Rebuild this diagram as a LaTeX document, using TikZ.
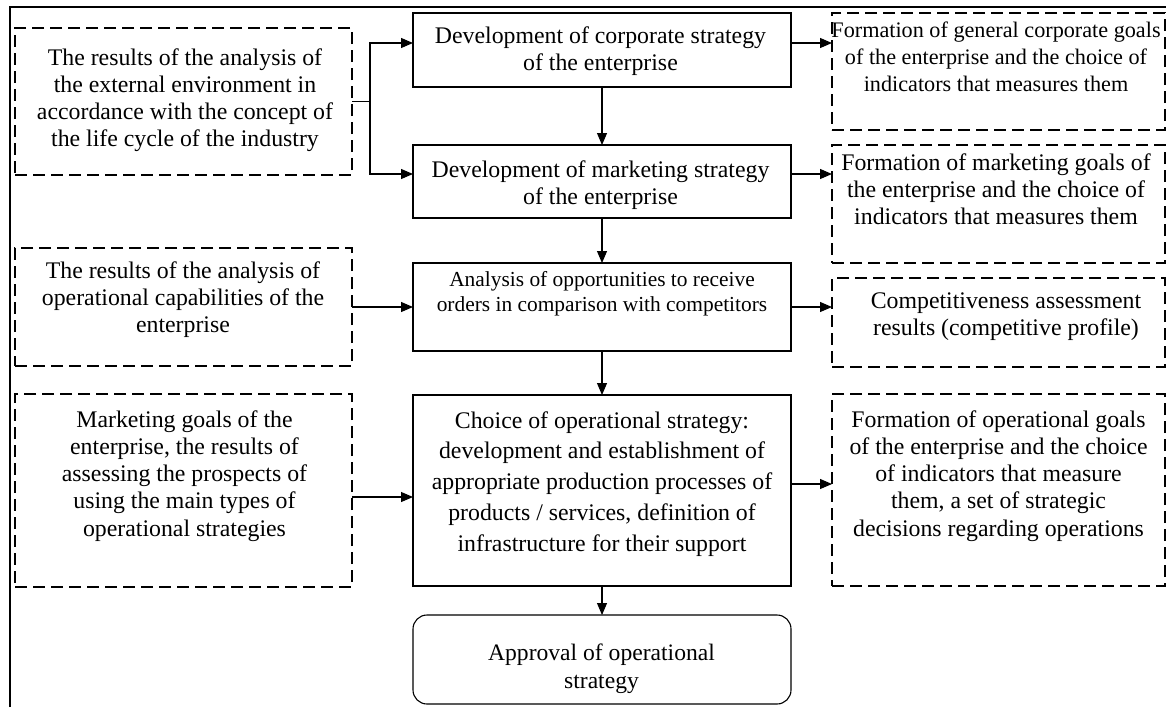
\documentclass[tikz,border=0pt]{standalone}
\usepackage{fontspec}
\setmainfont{Liberation Serif}
\usetikzlibrary{arrows.meta}
\newcommand{\tl}[1]{\begin{tabular}[t]{@{}c@{}}#1\end{tabular}}
\newcommand{\mainfs}{\fontsize{23.8}{27.3}\selectfont}
\newcommand{\smallfs}{\fontsize{21.4}{25}\selectfont}
\newcommand{\rfs}{\fontsize{22.2}{27.2}\selectfont}
\newcommand{\widefs}{\fontsize{23.8}{30.8}\selectfont}
\newcommand{\apprfs}{\fontsize{23.6}{28}\selectfont}
\begin{document}
\begin{tikzpicture}[x=1pt,y=-1pt,
  box/.style={draw=black, line width=1.1pt, inner sep=0pt, outer sep=0pt},
  dbox/.style={box, dash pattern=on 12pt off 6pt},
  rbox/.style={box, rounded corners=14pt},
  txt/.style={anchor=base, inner sep=0pt, font=\mainfs},
  ln/.style={line width=1.1pt},
  arr/.style={line width=1.1pt, -{Triangle[length=12pt,width=10pt]}},
  frame/.style={line width=1.4pt}]
\useasboundingbox (0,0) rectangle (1166,707);
% frame
\coordinate (fb) at (10,707);
\coordinate (ft) at (10,7);
\coordinate (fr) at (1166,7);
\draw[frame] (fb) -- (ft) -- (fr);
% left boxes
\node[dbox, minimum width=337pt, minimum height=147pt] (bL1) at (183.5,101.5) {};
\node[dbox, minimum width=337pt, minimum height=118pt] (bL2) at (183.5,307) {};
\node[dbox, minimum width=337pt, minimum height=193pt] (bL3) at (183.5,490.5) {};
% centre boxes
\node[box, minimum width=378pt, minimum height=74pt] (bA) at (602,50) {};
\node[box, minimum width=378pt, minimum height=73pt] (bB) at (602,181.5) {};
\node[box, minimum width=378pt, minimum height=88pt] (bC) at (602,307) {};
\node[box, minimum width=378pt, minimum height=191pt] (bD) at (602,490.5) {};
\node[rbox, minimum width=378pt, minimum height=89pt] (bE) at (602,659.5) {};
% right boxes
\node[dbox, minimum width=333pt, minimum height=117pt] (bR1) at (998.5,71.5) {};
\node[dbox, minimum width=333pt, minimum height=118pt] (bR2) at (998.5,204) {};
\node[dbox, minimum width=333pt, minimum height=89pt] (bR3) at (998.5,322.5) {};
\node[dbox, minimum width=333pt, minimum height=192pt] (bR4) at (998.5,490) {};
% texts
\node[txt] (tL1) at (185,65) {\tl{The results of the analysis of\\the external environment in\\accordance with the concept of\\the life cycle of the industry}};
\node[txt] (tL2) at (183,278) {\tl{The results of the analysis of\\operational capabilities of the\\enterprise}};
\node[txt] (tL3) at (184.5,427) {\tl{Marketing goals of the\\enterprise, the results of\\assessing the prospects of\\using the main types of\\operational strategies}};
\node[txt] (tA) at (600.5,43) {\tl{Development of corporate strategy\\of the enterprise}};
\node[txt] (tB) at (600.5,177) {\tl{Development of marketing strategy\\of the enterprise}};
\node[txt, font=\smallfs] (tC) at (602,286) {\tl{Analysis of opportunities to receive\\orders in comparison with competitors}};
\node[txt, font=\widefs] (tD) at (602,428) {\tl{Choice of operational strategy:\\development and establishment of\\appropriate production processes of\\products / services, definition of\\infrastructure for their support}};
\node[txt, font=\apprfs] (tE) at (601.5,660) {\tl{Approval of operational\\strategy}};
\node[txt, font=\rfs] (tR1) at (996,37) {\tl{Formation of general corporate goals\\of the enterprise and the choice of\\indicators that measures them}};
\node[txt] (tR2) at (996,170) {\tl{Formation of marketing goals of\\the enterprise and the choice of\\indicators that measures them}};
\node[txt] (tR3) at (1006,308) {\tl{Competitiveness assessment\\results (competitive profile)}};
\node[txt] (tR4) at (998.5,427) {\tl{Formation of operational goals\\of the enterprise and the choice\\of indicators that measure\\them, a set of strategic\\decisions regarding operations}};
% connectors
\coordinate (j1) at ([xshift=18pt]bL1.east);
\draw[ln] (bL1.east) -- (j1);
\draw[arr] (j1) |- ([yshift=7pt]bA.west);
\draw[arr] (j1) |- ([yshift=7.5pt]bB.west);
\draw[arr] (bA) -- (bB);
\draw[arr] (bB) -- (bC);
\draw[arr] (bC) -- (bD);
\draw[arr] (bD) -- (bE);
\draw[arr] ([yshift=7pt]bA.east) -- ([yshift=7pt]bA.east -| bR1.west);
\draw[arr] ([yshift=7.5pt]bB.east) -- ([yshift=7.5pt]bB.east -| bR2.west);
\draw[arr] (bC.east) -- (bC.east -| bR3.west);
\draw[arr] ([yshift=6.5pt]bD.east) -- ([yshift=6.5pt]bD.east -| bR4.west);
\draw[arr] (bL2.east) -- (bL2.east -| bC.west);
\draw[arr] ([yshift=-6.5pt]bL3.east) -- ([yshift=-6.5pt]bL3.east -| bD.west);
\end{tikzpicture}
\end{document}
